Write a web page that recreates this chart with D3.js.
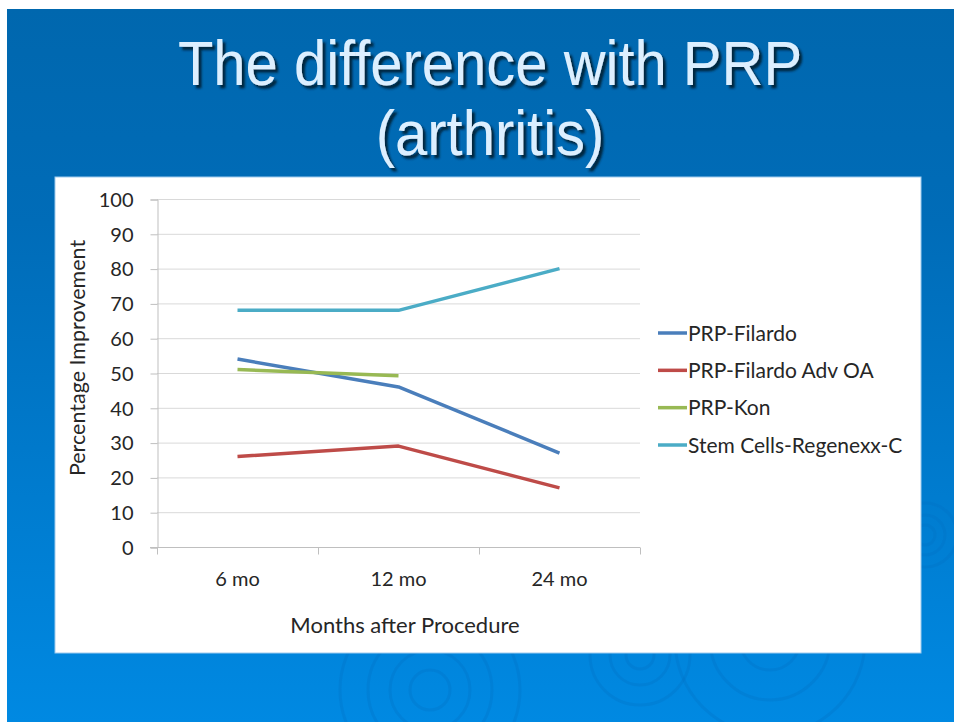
<!DOCTYPE html>
<html>
<head>
<meta charset="utf-8">
<title>The difference with PRP (arthritis)</title>
<style>
    body {
        margin: 0;
        padding: 0;
        background: #fff;
        overflow: hidden;
    }
    svg text {
        font-family: Lato, "Open Sans", sans-serif;
    }
    .title {
        font-family: "Liberation Sans", Arial, sans-serif !important;
        fill: #dcefff;
    }
    .grid line {
        stroke: #d9d9d9;
    }
    .axis path, .axis line {
        stroke: #bfbfbf;
    }
    .axis text {
        fill: #262626;
        font-size: 20px;
    }
</style>
</head>
<body>
<svg id="slide" width="954" height="722"></svg>
<script src="https://d3js.org/d3.v7.min.js"></script>
<script>
// chart values
const months = ["6 mo", "12 mo", "24 mo"];
const seriesNames = ["PRP-Filardo", "PRP-Filardo Adv OA", "PRP-Kon", "Stem Cells-Regenexx-C"];
const filardo = [54, 46, 27];
const filardoAdvOA = [26, 29, 17];
const kon = [51, 49.2];
const regenexx = [68, 68, 80];
const yTicks = [0, 10, 20, 30, 40, 50, 60, 70, 80, 90, 100];
const colors = ["#4a7ebb", "#be4b48", "#98b954", "#4bacc6"];

const seriesValues = [filardo, filardoAdvOA, kon, regenexx];

const svg = d3.select("#slide");

// slide background
const defs = svg.append("defs");
const grad = defs.append("linearGradient")
    .attr("id", "bg").attr("x1", 0).attr("y1", 0).attr("x2", 0).attr("y2", 1);
grad.append("stop").attr("offset", "0%").attr("stop-color", "#0067ae");
grad.append("stop").attr("offset", "30%").attr("stop-color", "#006cb8");
grad.append("stop").attr("offset", "100%").attr("stop-color", "#0089e2");

const shadow = defs.append("filter").attr("id", "shadow")
    .attr("x", "-10%").attr("y", "-10%").attr("width", "120%").attr("height", "130%");
shadow.append("feDropShadow").attr("dx", 3).attr("dy", 3).attr("stdDeviation", 1.2)
    .attr("flood-color", "#001a33").attr("flood-opacity", 0.9);

svg.append("rect").attr("x", 7).attr("y", 9).attr("width", 947).attr("height", 713)
    .attr("fill", "url(#bg)");

// faint ripples at the bottom
const ripples = [[430, 690, [20, 40, 62, 90]], [640, 655, [14, 30, 50]], [770, 640, [30, 60, 95]], [925, 535, [10, 20, 32]]];
ripples.forEach(([cx, cy, rs]) => {
    rs.forEach(r => {
        svg.append("circle").attr("cx", cx).attr("cy", cy).attr("r", r)
            .attr("fill", "none").attr("stroke", "#0070c2").attr("stroke-width", 3).attr("opacity", 0.3);
    });
});

// title, a little taller than plain Arial
const titleLines = [["The difference with PRP", 85], ["(arthritis)", 155]];
titleLines.forEach(([t, base]) => {
    svg.append("text").attr("class", "title")
        .attr("transform", `translate(490,${base}) scale(1,1.1)`)
        .attr("text-anchor", "middle")
        .attr("font-size", 58).attr("filter", "url(#shadow)")
        .text(t);
});

// white chart panel
svg.append("rect").attr("x", 55).attr("y", 177).attr("width", 866).attr("height", 476)
    .attr("fill", "#fff").attr("stroke", "#9fcbee").attr("stroke-width", 1);

const x = d3.scaleBand().domain(months).range([157, 640]);
const y = d3.scaleLinear().domain([0, 100]).range([547, 199]);

// gridlines
svg.append("g").attr("class", "grid")
    .selectAll("line").data(yTicks.filter(d => d > 0)).join("line")
    .attr("x1", 157).attr("x2", 640)
    .attr("y1", d => y(d) + 0.5).attr("y2", d => y(d) + 0.5);

// y axis
const yAxis = svg.append("g").attr("class", "axis")
    .attr("transform", "translate(157.5,0.5)")
    .call(d3.axisLeft(y).tickValues(yTicks).tickSize(7).tickPadding(17));
yAxis.selectAll("text").attr("dy", "0.34em");

// x axis with ticks on band edges
const xAxis = svg.append("g").attr("class", "axis")
    .attr("transform", "translate(0,547.5)");
xAxis.append("line").attr("x1", 150).attr("x2", 640).attr("stroke", "#bfbfbf");
const edges = months.map(m => x(m)).concat([x.range()[1]]);
xAxis.selectAll(".edge").data(edges).join("line").attr("class", "edge")
    .attr("x1", d => Math.round(d) + 0.5).attr("x2", d => Math.round(d) + 0.5)
    .attr("y1", 0).attr("y2", 7).attr("stroke", "#bfbfbf");
xAxis.selectAll(".lbl").data(months).join("text").attr("class", "lbl")
    .attr("x", d => x(d) + x.bandwidth() / 2).attr("y", 38)
    .attr("text-anchor", "middle").attr("font-size", 21).text(d => d);

// axis titles
svg.append("text").attr("transform", "translate(85,358) rotate(-90)")
    .attr("text-anchor", "middle").attr("font-size", 21.5).attr("fill", "#262626")
    .text("Percentage Improvement");
svg.append("text").attr("x", 405).attr("y", 633)
    .attr("text-anchor", "middle").attr("font-size", 22).attr("fill", "#262626")
    .text("Months after Procedure");

// lines
const line = d3.line()
    .x((d, i) => x(months[i]) + x.bandwidth() / 2)
    .y(d => y(d));
svg.append("g").selectAll("path").data(seriesValues).join("path")
    .attr("d", d => line(d))
    .attr("fill", "none")
    .attr("stroke", (d, i) => colors[i])
    .attr("stroke-width", 3.5)
    .attr("stroke-linejoin", "round");

// legend
const legendY = d3.scalePoint().domain(seriesNames).range([333, 445]);
const legend = svg.append("g").selectAll("g").data(seriesNames).join("g")
    .attr("transform", d => `translate(658,${legendY(d)})`);
legend.append("line").attr("x1", 0).attr("x2", 29)
    .attr("stroke", (d, i) => colors[i]).attr("stroke-width", 3.5);
legend.append("text").attr("x", 30).attr("dy", "0.36em")
    .attr("font-size", 21).attr("fill", "#262626").text(d => d);
</script>
</body>
</html>
